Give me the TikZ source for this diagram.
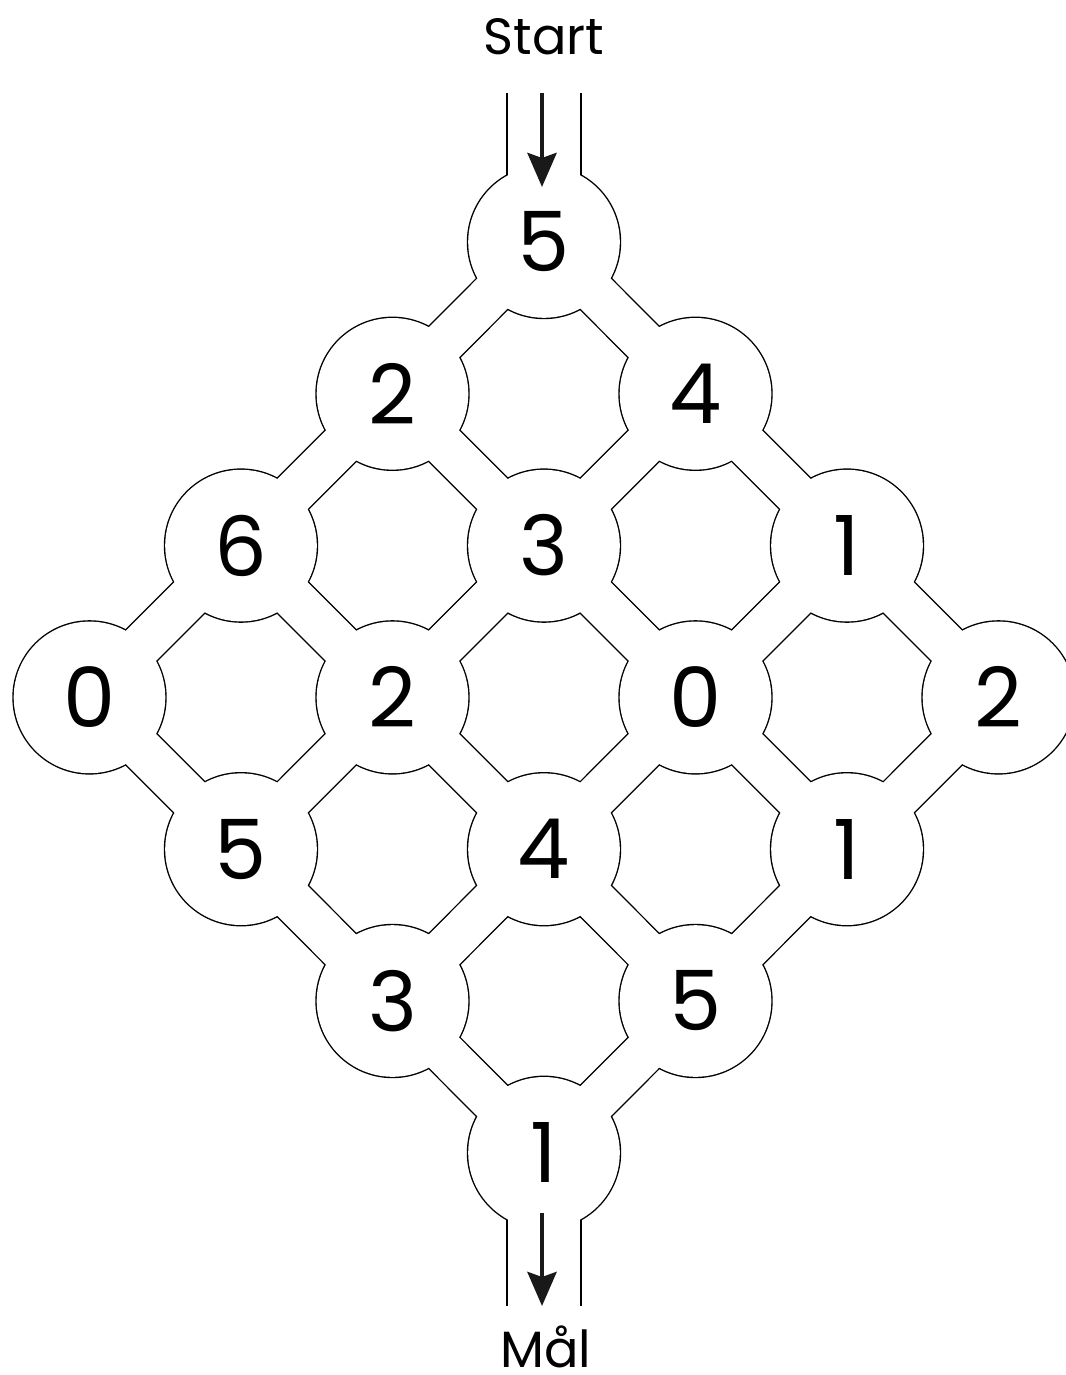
\documentclass[tikz,border=0pt]{standalone}
\usepackage{fontspec}
\setmainfont{Poppins}
\usetikzlibrary{arrows.meta}

\begin{document}
\begin{tikzpicture}[
    x=1pt, y=-1pt,
    wall/.style={line width=45.4pt, draw=black},
    floor/.style={line width=42.6pt, draw=white},
    chanwall/.style={line width=75.4pt, draw=black},
    chanfloor/.style={line width=72.6pt, draw=white},
    num/.style={inner sep=0pt, font=\fontsize{83}{83}\selectfont},
    endlabel/.style={inner sep=0pt, anchor=base, font=\fontsize{51}{51}\selectfont},
    arrow/.style={-{Stealth[length=34pt, width=29pt, inset=5pt]}, line width=4.8pt, black!90}
]
\useasboundingbox (0,0) rectangle (1065,1375);

% Cell centres (4x4 grid turned by 45 degrees)
\foreach \i in {0,...,3}
  \foreach \j in {0,...,3}
    \coordinate (c-\i-\j) at ({544+(\j-\i)*151.5}, {242+(\i+\j)*151.8});

% Channel ends and arrow ends
\coordinate (chan-in) at (544,93);
\coordinate (chan-in-x) at (544,90);
\coordinate (chan-out) at (544,1306);
\coordinate (chan-out-x) at (544,1309);
\coordinate (arr-in-a) at (542,93);
\coordinate (arr-in-b) at (542,187);
\coordinate (arr-out-a) at (542,1213);
\coordinate (arr-out-b) at (542,1306);

% Outline pass
\foreach \i/\k in {0/1,1/2,2/3}
  \foreach \j in {0,...,3} {
    \draw[wall] (c-\i-\j) -- (c-\k-\j);
    \draw[wall] (c-\j-\i) -- (c-\j-\k);
  }
\draw[chanwall] (chan-in) -- (c-0-0);
\draw[chanwall] (c-3-3) -- (chan-out);
\foreach \i in {0,...,3}
  \foreach \j in {0,...,3}
    \fill[black] (c-\i-\j) circle (77.2pt);

% Floor pass
\foreach \i/\k in {0/1,1/2,2/3}
  \foreach \j in {0,...,3} {
    \draw[floor] (c-\i-\j) -- (c-\k-\j);
    \draw[floor] (c-\j-\i) -- (c-\j-\k);
  }
\draw[chanfloor] (chan-in-x) -- (c-0-0);
\draw[chanfloor] (c-3-3) -- (chan-out-x);
\foreach \i in {0,...,3}
  \foreach \j in {0,...,3}
    \fill[white] (c-\i-\j) circle (75.8pt);

% Numbers
\foreach \i/\j/\v in {0/0/5, 0/1/4, 0/2/1, 0/3/2,
                      1/0/2, 1/1/3, 1/2/0, 1/3/1,
                      2/0/6, 2/1/2, 2/2/4, 2/3/5,
                      3/0/0, 3/1/5, 3/2/3, 3/3/1}
  \node[num] (n-\i-\j) at (c-\i-\j) {\v};

% Start and goal
\draw[arrow] (arr-in-a) -- (arr-in-b);
\draw[arrow] (arr-out-a) -- (arr-out-b);
\node[endlabel] (start) at (544,55) {Start};
\node[endlabel] (goal) at (546,1367) {Mål};

\end{tikzpicture}
\end{document}
